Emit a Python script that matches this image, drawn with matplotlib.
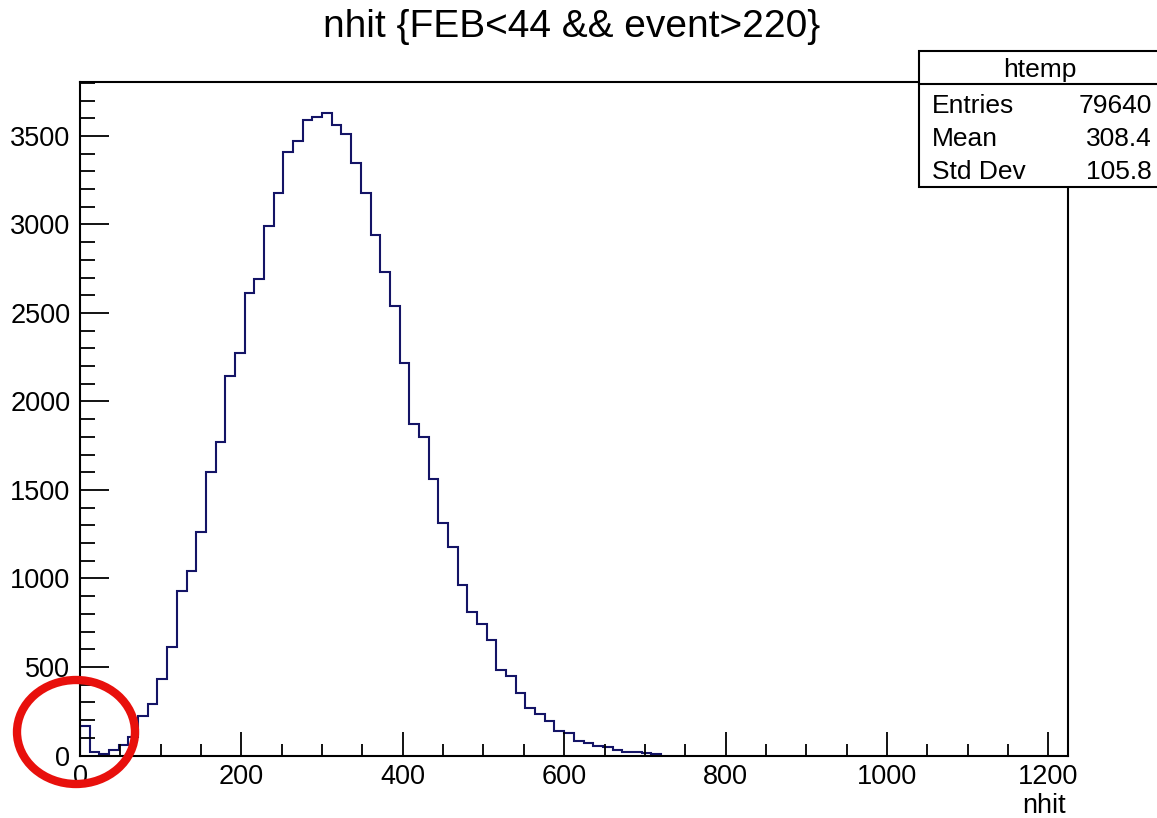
import numpy as np
import matplotlib.pyplot as plt
from matplotlib.patches import Ellipse, Rectangle
from matplotlib.lines import Line2D
from matplotlib.ticker import MultipleLocator

plt.rcParams['font.family'] = ['Liberation Sans', 'DejaVu Sans']

# histogram htemp: 12-wide bins starting at 0 (102 bins, range 0-1224)
bin_width = 12
x_max = 1224
counts = [168, 21, 7, 31, 59, 102, 221, 291, 430, 611,
          929, 1042, 1261, 1603, 1769, 2144, 2272, 2611, 2692, 2991,
          3180, 3411, 3472, 3590, 3609, 3632, 3562, 3511, 3349, 3180,
          2941, 2730, 2540, 2219, 1871, 1798, 1560, 1312, 1180, 963,
          812, 741, 653, 483, 451, 351, 270, 233, 197, 138,
          125, 84, 69, 54, 46, 31, 22, 18, 12, 8]

title = "nhit {FEB<44 && event>220}"
x_label = "nhit"
stats_title = "htemp"
stats_names = ["Entries", "Mean", "Std Dev"]
stats_values = ["79640", "308.4", "105.8"]

W, H = 1157, 818
def fx(px):
    return px / W
def fy(py):
    return 1 - py / H

fig = plt.figure(figsize=(W / 100, H / 100), dpi=100)
ax = fig.add_axes([fx(80), fy(755.5), (1067.7 - 80) / W, (755.5 - 82) / H])

edges = np.arange(len(counts) + 1) * bin_width
ax.stairs(counts, edges, color='#141466', lw=1.5)

ax.set_xlim(0, x_max)
ax.set_ylim(0, 3805)
ax.xaxis.set_major_locator(MultipleLocator(200))
ax.xaxis.set_minor_locator(MultipleLocator(50))
ax.yaxis.set_major_locator(MultipleLocator(500))
ax.yaxis.set_minor_locator(MultipleLocator(100))

ax.tick_params(axis='both', which='both', direction='in', top=False, right=False,
               width=1.3, labelsize=19.5, color='black')
ax.tick_params(axis='x', which='major', length=17.5, pad=6)
ax.tick_params(axis='x', which='minor', length=8.5)
ax.tick_params(axis='y', which='major', length=21, pad=7)
ax.tick_params(axis='y', which='minor', length=10.8)
for s in ax.spines.values():
    s.set_linewidth(1.5)

fig.text(fx(572), fy(37), title, ha='center', va='baseline', fontsize=28)
fig.text(fx(1066), fy(813), x_label, ha='right', va='baseline', fontsize=19.5)

# stats box
box = Rectangle((fx(919), fy(187)), (1170 - 919) / W, (187 - 51) / H,
                transform=fig.transFigure, facecolor='white', edgecolor='black',
                lw=1.5, zorder=5)
fig.add_artist(box)
fig.add_artist(Line2D([fx(919), fx(1170)], [fy(84.3), fy(84.3)],
                      transform=fig.transFigure, color='black', lw=1.5, zorder=6))
fig.text(fx(1040), fy(77), stats_title, ha='center', va='baseline', fontsize=19, zorder=7)
for i, (name, val) in enumerate(zip(stats_names, stats_values)):
    y = 112.7 + i * 33
    fig.text(fx(932), fy(y), name, ha='left', va='baseline', fontsize=19, zorder=7)
    fig.text(fx(1152), fy(y), val, ha='right', va='baseline', fontsize=19, zorder=7)

# red circle marking the low-nhit bins
circ = Ellipse((fx(76), fy(732)), 118 / W, 104 / H, transform=fig.transFigure,
               fill=False, edgecolor='#e8100c', lw=6, zorder=8)
fig.add_artist(circ)

fig.savefig('out.png', dpi=100)
